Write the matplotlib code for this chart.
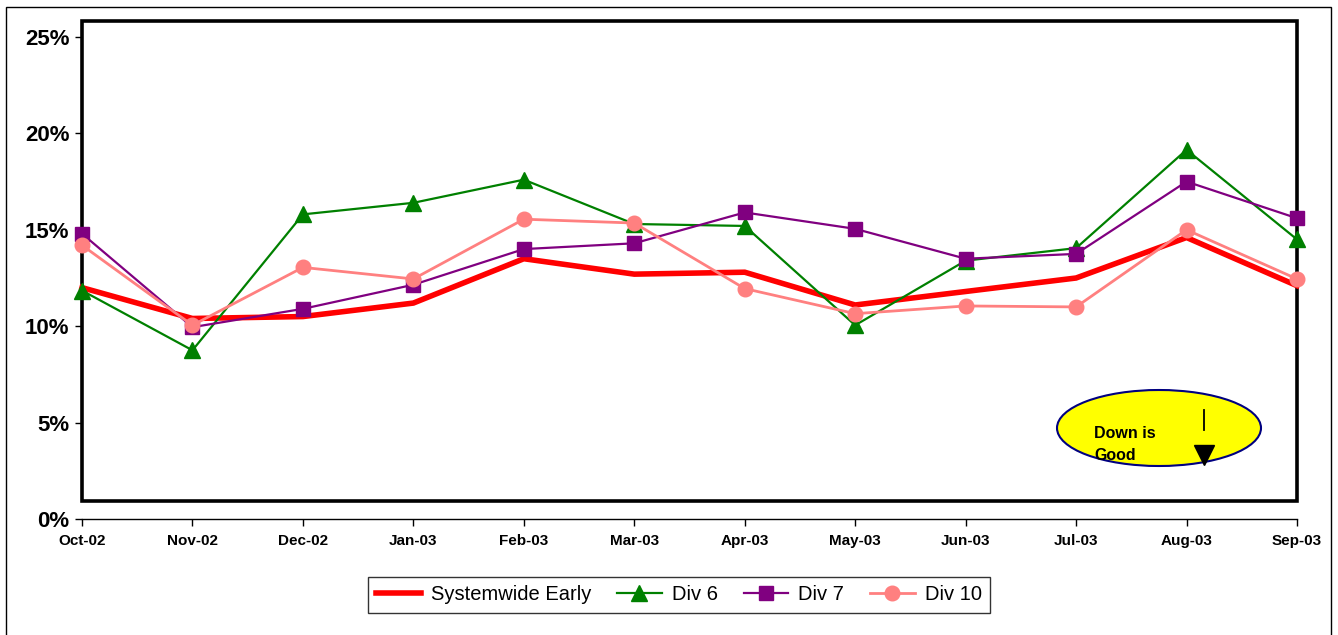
#!/usr/bin/env python3
import matplotlib
matplotlib.use("Agg")
import matplotlib.pyplot as plt
from matplotlib.patches import Rectangle, Ellipse
from matplotlib.lines import Line2D
from matplotlib.ticker import FuncFormatter

plt.rcParams["font.family"] = ["Liberation Sans", "DejaVu Sans"]

months = ["Oct-02", "Nov-02", "Dec-02", "Jan-03", "Feb-03", "Mar-03",
          "Apr-03", "May-03", "Jun-03", "Jul-03", "Aug-03", "Sep-03"]

# rates in percent
systemwide = [12.0, 10.4, 10.5, 11.2, 13.5, 12.7, 12.8, 11.1, 11.8, 12.5, 14.6, 12.1]
div6 = [11.85, 8.75, 15.8, 16.4, 17.6, 15.3, 15.2, 10.05, 13.4, 14.05, 19.15, 14.5]
div7 = [14.8, 9.95, 10.9, 12.15, 14.0, 14.3, 15.9, 15.05, 13.5, 13.75, 17.5, 15.6]
div10 = [14.2, 10.05, 13.05, 12.45, 15.55, 15.35, 11.95, 10.65, 11.05, 11.0, 15.0, 12.45]

W, H = 1338, 635
fig = plt.figure(figsize=(W / 100, H / 100), dpi=100)

# axes: 0% sits at y=519px, the plot box top at y=21px
px_per_pct = 482 / 25.0
ytop = (519 - 21) / px_per_pct
ax = fig.add_axes([82 / W, 1 - 519 / H, (1297 - 82) / W, (519 - 21) / H])

x = list(range(len(months)))
ax.plot(x, systemwide, color="#FF0000", lw=4, solid_joinstyle="miter",
        label="Systemwide Early", clip_on=False, zorder=3)
ax.plot(x, div6, color="#008000", lw=1.6, marker="^", ms=11,
        label="Div 6", clip_on=False, zorder=4)
ax.plot(x, div7, color="#800080", lw=1.6, marker="s", ms=10,
        label="Div 7", clip_on=False, zorder=5)
ax.plot(x, div10, color="#FF8080", lw=2, marker="o", ms=10.5,
        label="Div 10", clip_on=False, zorder=6)

ax.set_xlim(0, 11)
ax.set_ylim(0, ytop)
ax.set_yticks([0, 5, 10, 15, 20, 25])
ax.yaxis.set_major_formatter(FuncFormatter(lambda v, p: "%d%%" % v))
ax.set_xticks(x)
ax.set_xticklabels(months)

for s in ["top", "right", "left"]:
    ax.spines[s].set_visible(False)
ax.spines["bottom"].set_linewidth(1)

ax.tick_params(axis="y", direction="out", length=5, width=1, pad=4,
               labelsize=16)
ax.tick_params(axis="x", direction="out", length=5, width=1, pad=6,
               labelsize=11)
for t in ax.get_yticklabels() + ax.get_xticklabels():
    t.set_fontweight("bold")

# thick plot-area box
box_bottom = (519 - 501) / px_per_pct
ax.add_patch(Rectangle((0, box_bottom), 11, ytop - box_bottom, fill=False,
                       lw=2.6, edgecolor="black", clip_on=False, zorder=2))

# legend
leg = ax.legend(loc="center", bbox_to_anchor=((371 + 987) / 2 / W, 1 - 595 / H),
                bbox_transform=fig.transFigure, ncol=4, fontsize=14.5,
                frameon=True, fancybox=False, handlelength=2.2,
                columnspacing=1.3, handletextpad=0.5, borderpad=0.4,
                borderaxespad=0)
leg.get_frame().set_edgecolor("black")
leg.get_frame().set_linewidth(1)

# "Down is Good" callout
fig.add_artist(Ellipse((1159 / W, 1 - 428 / H), 204 / W, 76 / H,
                       transform=fig.transFigure, facecolor="#FFFF00",
                       edgecolor="#000080", lw=1.5))
fig.text(1094 / W, 1 - 434 / H, "Down is", fontsize=11.5, fontweight="bold",
         va="center", ha="left")
fig.text(1094 / W, 1 - 456 / H, "Good", fontsize=11.5, fontweight="bold",
         va="center", ha="left")
fig.add_artist(Line2D([1204 / W, 1204 / W], [1 - 410 / H, 1 - 430 / H],
                      transform=fig.transFigure, color="black", lw=1.3))
fig.add_artist(Line2D([1204 / W], [1 - 455 / H], transform=fig.transFigure,
                      marker="v", ms=14, color="black", lw=0))

# outer chart frame
fig.add_artist(Rectangle((6 / W, -0.05), (1331 - 6) / W, 1.05 - 7 / H,
                         transform=fig.transFigure, fill=False,
                         edgecolor="black", lw=1))

fig.savefig("out.png", dpi=100)
